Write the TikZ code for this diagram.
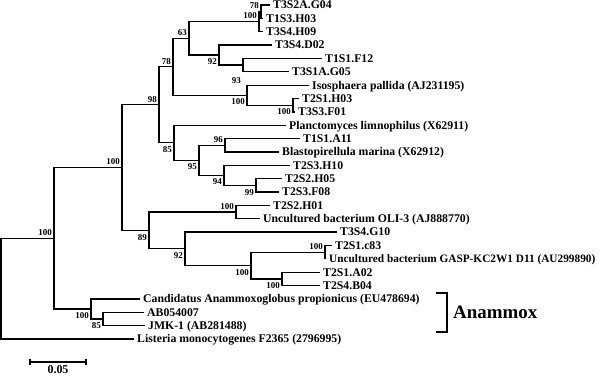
\documentclass[tikz,border=0pt]{standalone}
\usepackage{fontspec}
\setmainfont{Liberation Serif}
\usetikzlibrary{calc}
\begin{document}
\begin{tikzpicture}[x=1bp,y=-1bp,
  br/.style={line width=1.3bp},
  leaf/.style={anchor=west, inner xsep=3bp, inner ysep=0pt, font=\bfseries\fontsize{11.8}{12}\selectfont, text height=7.7bp, text depth=0pt},
  narrowleaf/.style={leaf, font=\bfseries\fontsize{11.35}{12}\selectfont},
  bsu/.style={anchor=south east, inner sep=0pt, xshift=-2bp, yshift=2.5bp, font=\bfseries\fontsize{9}{9}\selectfont},
  bsd/.style={anchor=north east, inner sep=0pt, xshift=-2bp, yshift=-3.5bp, font=\bfseries\fontsize{9}{9}\selectfont}]
\useasboundingbox (0,0) rectangle (600,375);
% leaves
\node[leaf] (L0) at (270,5.00) {T3S2A.G04};
\node[leaf] (L1) at (263,18.36) {T1S3.H03};
\node[leaf] (L2) at (263,31.72) {T3S4.H09};
\node[leaf] (L3) at (272,45.08) {T3S4.D02};
\node[leaf] (L4) at (322,58.44) {T1S1.F12};
\node[leaf] (L5) at (289,71.80) {T3S1A.G05};
\node[leaf] (L6) at (309,85.16) {Isosphaera pallida (AJ231195)};
\node[leaf] (L7) at (299,98.52) {T2S1.H03};
\node[leaf] (L8) at (295,111.88) {T3S3.F01};
\node[leaf] (L9) at (286,125.24) {Planctomyces limnophilus (X62911)};
\node[leaf] (L10) at (300,138.60) {T1S1.A11};
\node[leaf] (L11) at (279,151.96) {Blastopirellula marina (X62912)};
\node[leaf] (L12) at (290,165.32) {T2S3.H10};
\node[leaf] (L13) at (282,178.68) {T2S2.H05};
\node[leaf] (L14) at (279,192.04) {T2S3.F08};
\node[leaf] (L15) at (270,205.40) {T2S2.H01};
\node[leaf] (L16) at (260,218.76) {Uncultured bacterium OLI-3 (AJ888770)};
\node[leaf] (L17) at (337,232.12) {T3S4.G10};
\node[leaf] (L18) at (332,245.48) {T2S1.c83};
\node[narrowleaf] (L19) at (326,258.84) {Uncultured bacterium GASP-KC2W1 D11 (AU299890)};
\node[leaf] (L20) at (320,272.20) {T2S1.A02};
\node[leaf] (L21) at (320,285.56) {T2S4.B04};
\node[leaf] (L22) at (140,298.92) {Candidatus Anammoxoglobus propionicus (EU478694)};
\node[leaf] (L23) at (144,312.28) {AB054007};
\node[leaf] (L24) at (145,325.64) {JMK-1 (AB281488)};
\node[leaf] (L25) at (134,339.00) {Listeria monocytogenes F2365 (2796995)};
% internal nodes
\coordinate (n78a) at (261,11.68);
\coordinate (n100a) at (259,21.70);
\coordinate (n93) at (243,65.12);
\coordinate (n92) at (219,55.10);
\coordinate (n63) at (189,38.40);
\coordinate (n100b) at (293,105.20);
\coordinate (n100iso) at (247,95.18);
\coordinate (n78) at (173,66.79);
\coordinate (n96) at (225,145.28);
\coordinate (n99) at (256,185.36);
\coordinate (n94) at (224,175.34);
\coordinate (n95) at (199,160.31);
\coordinate (n85) at (174,142.78);
\coordinate (n98) at (159,104.79);
\coordinate (n100c) at (236,212.08);
\coordinate (n100d) at (325,252.16);
\coordinate (n100e) at (282,278.88);
\coordinate (n100f) at (251,265.52);
\coordinate (n92b) at (185,248.82);
\coordinate (n89) at (149,230.45);
\coordinate (n100g) at (122,167.62);
\coordinate (n85b) at (103,318.96);
\coordinate (n100h) at (91,308.94);
\coordinate (n100i) at (54,238.28);
\coordinate (root) at (1,288.64);
% branches
\draw[br] (n78a) |- (L0.west) (n78a) |- (L1.west);
\draw[br] (n100a) |- (n78a) (n100a) |- (L2.west);
\draw[br] (n93) |- (L4.west) (n93) |- (L5.west);
\draw[br] (n92) |- (L3.west) (n92) |- (n93);
\draw[br] (n63) |- (n100a) (n63) |- (n92);
\draw[br] (n100b) |- (L7.west) (n100b) |- (L8.west);
\draw[br] (n100iso) |- (L6.west) (n100iso) |- (n100b);
\draw[br] (n78) |- (n63) (n78) |- (n100iso);
\draw[br] (n96) |- (L10.west) (n96) |- (L11.west);
\draw[br] (n99) |- (L13.west) (n99) |- (L14.west);
\draw[br] (n94) |- (L12.west) (n94) |- (n99);
\draw[br] (n95) |- (n96) (n95) |- (n94);
\draw[br] (n85) |- (L9.west) (n85) |- (n95);
\draw[br] (n98) |- (n78) (n98) |- (n85);
\draw[br] (n100c) |- (L15.west) (n100c) |- (L16.west);
\draw[br] (n100d) |- (L18.west) (n100d) |- (L19.west);
\draw[br] (n100e) |- (L20.west) (n100e) |- (L21.west);
\draw[br] (n100f) |- (n100d) (n100f) |- (n100e);
\draw[br] (n92b) |- (L17.west) (n92b) |- (n100f);
\draw[br] (n89) |- (n100c) (n89) |- (n92b);
\draw[br] (n100g) |- (n98) (n100g) |- (n89);
\draw[br] (n85b) |- (L23.west) (n85b) |- (L24.west);
\draw[br] (n100h) |- (L22.west) (n100h) |- (n85b);
\draw[br] (n100i) |- (n100g) (n100i) |- (n100h);
\draw[br] (root) |- (n100i) (root) |- (L25.west);
% bootstrap values
\node[bsu] (b78a) at (n78a) {78};
\node[bsu] (b100a) at (n100a) {100};
\node[bsd, yshift=-9bp] (b93) at (n93) {93};
\node[bsd] (b92) at (n92) {92};
\node[bsu] (b63) at (n63) {63};
\node[bsd] (b100b) at (n100b) {100};
\node[bsd] (b100iso) at (n100iso) {100};
\node[bsu] (b78) at (n78) {78};
\node[bsu] (b96) at (n96) {96};
\node[bsd] (b99) at (n99) {99};
\node[bsd] (b94) at (n94) {94};
\node[bsd] (b95) at (n95) {95};
\node[bsd] (b85) at (n85) {85};
\node[bsu] (b98) at (n98) {98};
\node[bsu] (b100c) at (n100c) {100};
\node[bsu] (b100d) at (n100d) {100};
\node[bsd] (b100e) at (n100e) {100};
\node[bsd] (b100f) at (n100f) {100};
\node[bsd] (b92b) at (n92b) {92};
\node[bsd] (b89) at (n89) {89};
\node[bsu] (b100g) at (n100g) {100};
\node[bsd] (b85b) at (n85b) {85};
\node[bsd] (b100h) at (n100h) {100};
\node[bsu] (b100i) at (n100i) {100};
% Anammox bracket
\coordinate (bt) at (436,293);
\coordinate (bb) at (436,332);
\draw[line width=2bp] (bt) -- ++(11,0) |- (bb);
\node[anchor=west, inner sep=0pt, font=\bfseries\fontsize{19}{19}\selectfont] (anam) at (453,312) {Anammox};
% scale bar
\coordinate (s1) at (30,362);
\coordinate (s2) at (86,362);
\draw[br] (s1) -- (s2);
\draw[br] ($(s1)+(0,-3)$) -- ($(s1)+(0,3)$);
\draw[br] ($(s2)+(0,-3)$) -- ($(s2)+(0,3)$);
\node[inner sep=0pt, font=\bfseries\fontsize{12}{12}\selectfont] (scl) at (58,370) {0.05};
\end{tikzpicture}
\end{document}
